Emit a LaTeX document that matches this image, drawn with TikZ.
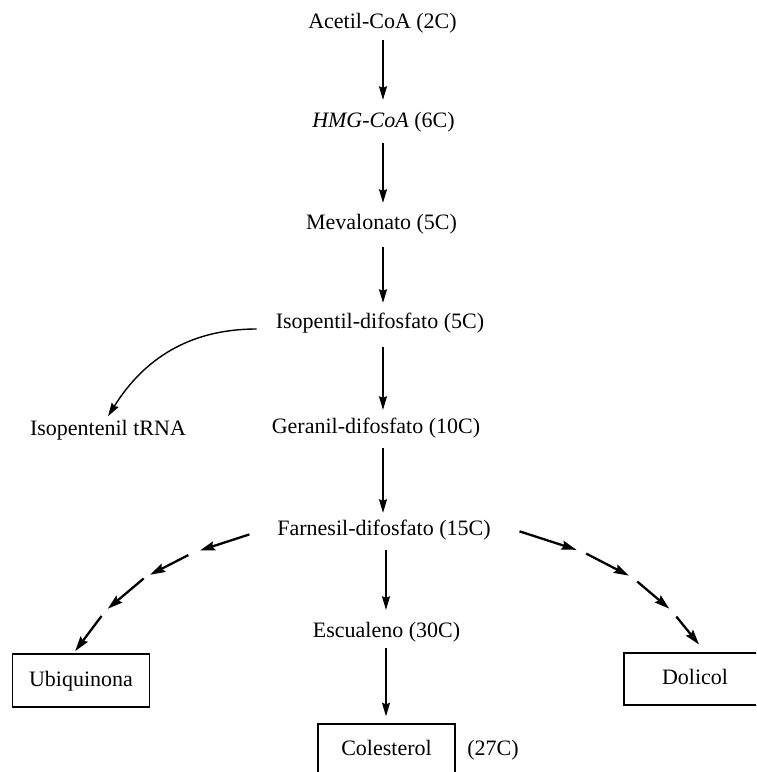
\documentclass[tikz,border=0pt]{standalone}
\usepackage{fontspec}
\setmainfont{Liberation Serif}
\usetikzlibrary{arrows.meta,decorations.markings}

\tikzset{
  lbl/.style={font=\fontsize{22}{26}\selectfont, inner xsep=3pt, inner ysep=3pt,
              text height=16pt, text depth=5pt},
  boxed/.style={lbl, draw, line width=1.4pt, minimum width=137pt, minimum height=53pt},
  arr/.style={line width=1.4pt, -{Stealth[length=13.5pt,width=8pt,inset=1.5pt]}},
  dasharr/.style={line width=2.3pt, -{Stealth[length=15pt,width=9pt,inset=2pt]}},
}

\begin{document}
\begin{tikzpicture}[x=1pt,y=1pt]
\useasboundingbox (0,0) rectangle (756,-772);
\clip (0,0) rectangle (756,-772);

% vertical axes of the main pathway
\coordinate (axis) at (383,0);
\coordinate (axisb) at (386,0);

% metabolites
\node[lbl] (acetil) at (382.5,-23)  {Acetil-CoA (2C)};
\node[lbl] (hmg)    at (383.5,-122) {\textit{HMG-CoA} (6C)};
\node[lbl] (mev)    at (381.5,-224) {Mevalonato (5C)};
\node[lbl] (isop)   at (380,-323)   {Isopentil-difosfato (5C)};
\node[lbl] (ger)    at (376,-428)   {Geranil-difosfato (10C)};
\node[lbl] (trna)   at (108,-430)   {Isopentenil tRNA};
\node[lbl] (farn)   at (384,-530)   {Farnesil-difosfato (15C)};
\node[lbl] (escu)   at (386.5,-632) {Escualeno (30C)};

% end products
\node[boxed] (ubiq)  at (81,-680.5)  {Ubiquinona};
\node[boxed, minimum width=142pt, minimum height=52pt] (dol) at (695,-679) {Dolicol};
\node[boxed, minimum height=52pt] (coles) at (386.5,-750) {Colesterol};
\node[lbl] (c27) at (493,-750) {(27C)};

% main chain
\draw[arr, shorten <=3.5pt, shorten >=8.5pt] (acetil.south -| axis) -- (hmg.north -| axis);
\draw[arr, shorten <=7.5pt, shorten >=7.5pt] (hmg.south -| axis) -- (mev.north -| axis);
\draw[arr, shorten <=9.5pt, shorten >=6.5pt] (mev.south -| axis) -- (isop.north -| axis);
\draw[arr, shorten <=10.5pt, shorten >=4.5pt] (isop.south -| axis) -- (ger.north -| axis);
\draw[arr, shorten <=6.5pt, shorten >=3.5pt] (ger.south -| axis) -- (farn.north -| axis);
\draw[arr, shorten <=6.5pt, shorten >=8.5pt] (farn.south -| axisb) -- (escu.north -| axisb);
\draw[arr, shorten <=2.5pt, shorten >=7pt] (escu.south -| axisb) -- (coles.north -| axisb);

% branch to isopentenyl tRNA
\draw[arr] ([xshift=-16pt,yshift=-6pt]isop.west) to[out=180,in=58] (trna.north);

% dashed branches, each dash carrying its own arrowhead
\path[decorate, decoration={markings,
    mark=at position 0.120 with {\draw[dasharr] (-26pt,0) -- (26pt,0);},
    mark=at position 0.399 with {\draw[dasharr] (-21.5pt,0) -- (21.5pt,0);},
    mark=at position 0.643 with {\draw[dasharr] (-23.5pt,0) -- (23.5pt,0);},
    mark=at position 0.899 with {\draw[dasharr] (-22pt,0) -- (22pt,0);}}]
  ([xshift=-25pt,yshift=-5pt]farn.west) to[out=196,in=57] ([xshift=-5pt,yshift=2pt]ubiq.north);

\path[decorate, decoration={markings,
    mark=at position 0.136 with {\draw[dasharr] (-30pt,0) -- (30pt,0);},
    mark=at position 0.432 with {\draw[dasharr] (-24pt,0) -- (24pt,0);},
    mark=at position 0.686 with {\draw[dasharr] (-21pt,0) -- (21pt,0);},
    mark=at position 0.914 with {\draw[dasharr] (-18pt,0) -- (18pt,0);}}]
  ([xshift=26pt,yshift=-2pt]farn.east) to[out=-16,in=126] ([xshift=4pt,yshift=7pt]dol.north);
\end{tikzpicture}
\end{document}
